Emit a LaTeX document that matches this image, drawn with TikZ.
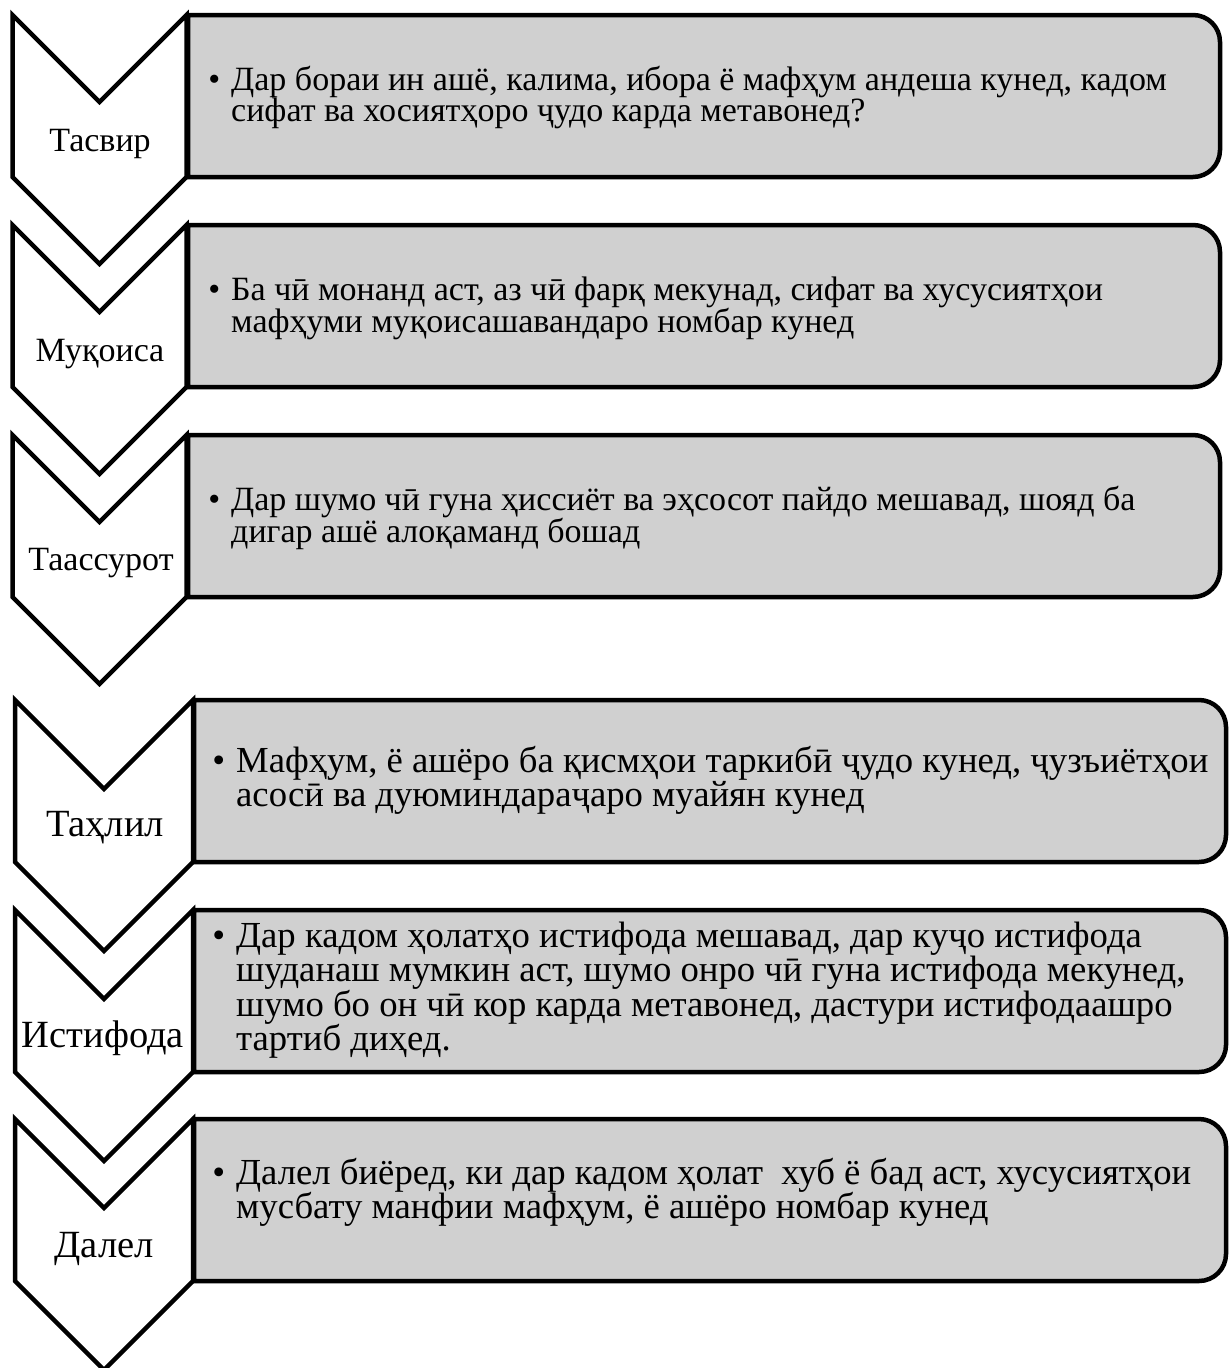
\documentclass[tikz,border=0pt]{standalone}
\usepackage{fontspec}
\setmainfont{Liberation Serif}
\definecolor{boxgray}{RGB}{208,208,208}
\tikzset{
  chev/.style={draw=black, line width=4.5pt, fill=white, line join=miter, miter limit=10},
  gbox/.style={draw=black, line width=4.5pt, fill=boxgray},
  lblU/.style={anchor=base, inner sep=0pt, font=\fontsize{34}{34}\selectfont},
  lblL/.style={anchor=base, inner sep=0pt, font=\fontsize{38.5}{38.5}\selectfont},
  txtU/.style={anchor=base west, inner sep=0pt, font=\fontsize{34}{31}\selectfont},
  txtL/.style={anchor=base west, inner sep=0pt, font=\fontsize{36.7}{34.5}\selectfont}
}
\newcommand\bul{\leavevmode\llap{\textbullet\hspace{11pt}}}
\begin{document}
\begin{tikzpicture}[x=1pt,y=-1pt]
\useasboundingbox (0,0) rectangle (1229,1368);
% ---------- upper group: boxes ----------
\draw[gbox] (188,15) -- (1193,15) arc[start angle=-90,end angle=0,radius=27] -- (1220,150) arc[start angle=0,end angle=90,radius=27] -- (188,177) -- cycle;
\draw[gbox] (188,225) -- (1193,225) arc[start angle=-90,end angle=0,radius=27] -- (1220,360) arc[start angle=0,end angle=90,radius=27] -- (188,387) -- cycle;
\draw[gbox] (188,435) -- (1193,435) arc[start angle=-90,end angle=0,radius=27] -- (1220,570) arc[start angle=0,end angle=90,radius=27] -- (188,597) -- cycle;
% ---------- upper group: chevrons ----------
\draw[chev] (12.5,15) -- (99.5,102) -- (186.5,15) -- (186.5,177) -- (99.5,264) -- (12.5,177) -- cycle;
\draw[chev] (12.5,225) -- (99.5,312) -- (186.5,225) -- (186.5,387) -- (99.5,474) -- (12.5,387) -- cycle;
\draw[chev] (12.5,435) -- (99.5,522) -- (186.5,435) -- (186.5,597) -- (99.5,684) -- (12.5,597) -- cycle;
% ---------- lower group: boxes ----------
\draw[gbox] (194,700) -- (1199,700) arc[start angle=-90,end angle=0,radius=27] -- (1226,835) arc[start angle=0,end angle=90,radius=27] -- (194,862) -- cycle;
\draw[gbox] (194,910) -- (1199,910) arc[start angle=-90,end angle=0,radius=27] -- (1226,1045) arc[start angle=0,end angle=90,radius=27] -- (194,1072) -- cycle;
\draw[gbox] (194,1119) -- (1199,1119) arc[start angle=-90,end angle=0,radius=27] -- (1226,1254) arc[start angle=0,end angle=90,radius=27] -- (194,1281) -- cycle;
% ---------- lower group: chevrons ----------
\draw[chev] (15,700) -- (104,789) -- (193,700) -- (193,862) -- (104,951) -- (15,862) -- cycle;
\draw[chev] (15,910) -- (104,999) -- (193,910) -- (193,1072) -- (104,1161) -- (15,1072) -- cycle;
\draw[chev] (15,1119) -- (104,1208) -- (193,1119) -- (193,1281) -- (104,1370) -- (15,1281) -- cycle;
% ---------- labels ----------
\node[lblU] (l1) at (100,151) {Тасвир};
\node[lblU] (l2) at (100,361) {Муқоиса};
\node[lblU] (l3) at (101,570) {Таассурот};
\node[lblL] (l4) at (105,836) {Таҳлил};
\node[lblL] (l5) at (103,1047) {Истифода};
\node[lblL] (l6) at (104,1257) {Далел};
% ---------- texts ----------
\node[txtU] (t1) at (231,90) {\parbox[t]{1000pt}{\raggedright\bul Дар бораи ин ашё, калима, ибора ё мафҳум андеша кунед, кадом\\ сифат ва хосиятҳоро ҷудо карда метавонед?}};
\node[txtU] (t2) at (231,300) {\parbox[t]{1000pt}{\raggedright\bul Ба чӣ монанд аст, аз чӣ фарқ мекунад, сифат ва хусусиятҳои\\ мафҳуми муқоисашавандаро номбар кунед}};
\node[txtU] (t3) at (231,510) {\parbox[t]{1000pt}{\raggedright\bul Дар шумо чӣ гуна ҳиссиёт ва эҳсосот пайдо мешавад, шояд ба\\ дигар ашё алоқаманд бошад}};
\node[txtL] (t4) at (236,772) {\parbox[t]{1000pt}{\raggedright\bul Мафҳум, ё ашёро ба қисмҳои таркибӣ ҷудо кунед, ҷузъиётҳои\\ асосӣ ва дуюминдараҷаро муайян кунед}};
\node[txtL] (t5) at (236,947) {\parbox[t]{1000pt}{\raggedright\bul Дар кадом ҳолатҳо истифода мешавад, дар куҷо истифода\\ шуданаш мумкин аст, шумо онро чӣ гуна истифода мекунед,\\ шумо бо он чӣ кор карда метавонед, дастури истифодаашро\\ тартиб диҳед.}};
\node[txtL] (t6) at (236,1184) {\parbox[t]{1000pt}{\raggedright\bul Далел биёред, ки дар кадом ҳолат\ \ хуб ё бад аст, хусусиятҳои\\ мусбату манфии мафҳум, ё ашёро номбар кунед}};
\end{tikzpicture}
\end{document}
